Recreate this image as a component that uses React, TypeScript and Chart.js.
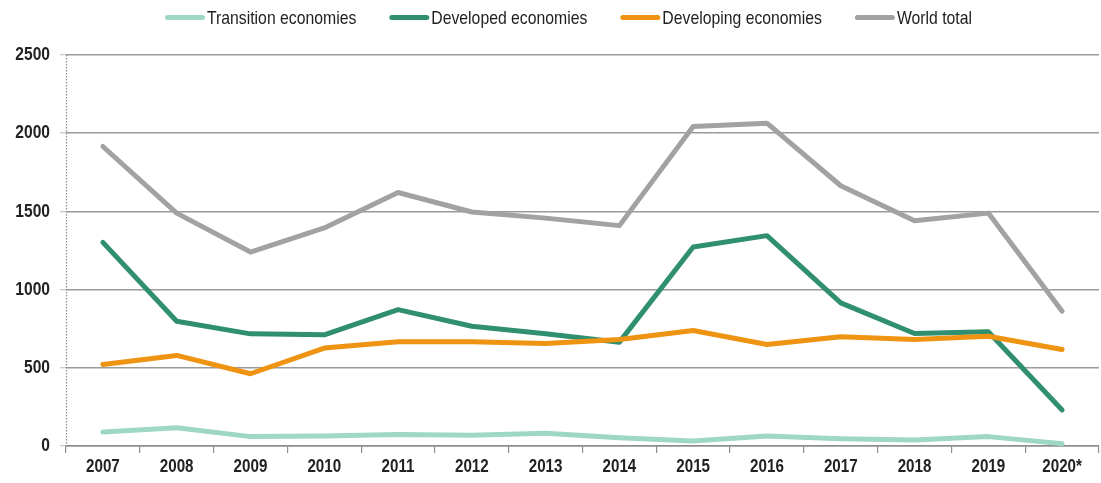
import React, { useEffect, useRef } from "react";
import { Chart, registerables } from "chart.js";

Chart.register(...registerables);

const years = ["2007", "2008", "2009", "2010", "2011", "2012", "2013", "2014", "2015", "2016", "2017", "2018", "2019", "2020*"];
const transition = [89, 117, 60, 64, 74, 68, 81, 53, 32, 64, 47, 38, 60, 15];
const developed = [1302, 798, 717, 711, 872, 766, 717, 664, 1272, 1345, 915, 719, 730, 230];
const developing = [521, 579, 462, 626, 666, 666, 655, 681, 738, 649, 698, 681, 702, 617];
const worldTotal = [1915, 1489, 1240, 1394, 1621, 1496, 1457, 1409, 2043, 2064, 1664, 1440, 1489, 862];
const yTicks = [0, 500, 1000, 1500, 2000, 2500];

const seriesNames = ["Transition economies", "Developed economies", "Developing economies", "World total"];
const seriesColors = ["#9fd7c6", "#2f8f70", "#ef9313", "#a2a2a2"];

const FONT = '"Liberation Sans", Arial, sans-serif';
const NARROW = 0.82;

// Draw axis tick text horizontally condensed (Arial Narrow look)
const condensePlugin = {
  id: "condenseText",
  beforeDraw(chart: any) {
    const ctx = chart.ctx;
    const orig = CanvasRenderingContext2D.prototype.fillText;
    ctx.fillText = function (t: string, x: number, y: number) {
      this.save();
      this.translate(x, y);
      this.scale(NARROW, 1);
      orig.call(this, t, 0, 0);
      this.restore();
    };
  },
  beforeDatasetsDraw(chart: any) {
    delete chart.ctx.fillText;
  },
  afterDraw(chart: any) {
    delete chart.ctx.fillText;
  },
};

const axisLinePlugin = {
  id: "dottedAxis",
  beforeDatasetsDraw(chart: any) {
    const { ctx, chartArea } = chart;
    ctx.save();
    ctx.strokeStyle = "#8a8a8a";
    ctx.lineWidth = 1.2;
    ctx.setLineDash([1.5, 1.5]);
    ctx.beginPath();
    ctx.moveTo(chartArea.left + 0.5, chartArea.top);
    ctx.lineTo(chartArea.left + 0.5, chartArea.bottom);
    ctx.stroke();
    ctx.restore();
  },
};

const legendPlugin = {
  id: "customLegend",
  afterDraw(chart: any) {
    const ctx = chart.ctx;
    ctx.save();
    ctx.font = `19px ${FONT}`;
    ctx.textBaseline = "middle";
    ctx.textAlign = "left";
    const boxW = 40;
    const boxH = 5;
    const gapText = 2;
    const gapItem = 33;
    const y = 17.5;
    let x = 165;
    seriesNames.forEach((name, i) => {
      ctx.fillStyle = seriesColors[i];
      ctx.beginPath();
      ctx.moveTo(x + boxH / 2, y - boxH / 2);
      ctx.lineTo(x + boxW - boxH / 2, y - boxH / 2);
      ctx.arc(x + boxW - boxH / 2, y, boxH / 2, -Math.PI / 2, Math.PI / 2);
      ctx.lineTo(x + boxH / 2, y + boxH / 2);
      ctx.arc(x + boxH / 2, y, boxH / 2, Math.PI / 2, Math.PI * 1.5);
      ctx.closePath();
      ctx.fill();
      ctx.fillStyle = "#1e1e1e";
      const tx = x + boxW + gapText;
      ctx.save();
      ctx.translate(tx, y + 1);
      ctx.scale(0.83, 1);
      ctx.fillText(name, 0, 0);
      ctx.restore();
      x = tx + ctx.measureText(name).width * 0.83 + gapItem;
    });
    ctx.restore();
  },
};

export default function App() {
  const canvasRef = useRef<HTMLCanvasElement | null>(null);

  useEffect(() => {
    if (!canvasRef.current) return;
    const values = [transition, developed, developing, worldTotal];
    const orders = [4, 2, 1, 3];
    const chart = new Chart(canvasRef.current, {
      type: "line",
      data: {
        labels: years,
        datasets: values.map((v, i) => ({
          label: seriesNames[i],
          data: v,
          borderColor: seriesColors[i],
          backgroundColor: seriesColors[i],
          borderWidth: 5,
          borderCapStyle: "round",
          borderJoinStyle: "round",
          pointRadius: 0,
          tension: 0,
          order: orders[i],
        })),
      },
      options: {
        responsive: false,
        animation: false,
        layout: { padding: { top: 55, right: 2, left: 0, bottom: 0 } },
        plugins: {
          legend: { display: false },
          tooltip: { enabled: false },
        },
        scales: {
          x: {
            offset: true,
            grid: {
              offset: true,
              drawOnChartArea: false,
              drawTicks: true,
              tickLength: 7,
              color: "#8c8c8c",
              lineWidth: 1.2,
            },
            border: { display: true, color: "#8c8c8c", width: 1.5 },
            ticks: {
              font: { family: FONT, size: 18.5, weight: "bold" },
              color: "#222222",
              padding: 3,
              maxRotation: 0,
              autoSkip: false,
            },
            afterFit(scale: any) {
              scale.height = 37;
            },
          },
          y: {
            min: 0,
            max: 2500,
            afterBuildTicks(scale: any) {
              scale.ticks = yTicks.map((v) => ({ value: v }));
            },
            grid: {
              color: "#9a9a9a",
              lineWidth: 1.5,
              tickLength: 6,
              tickColor: "#bdbdbd",
              tickWidth: 1,
            },
            border: { display: false },
            ticks: {
              font: { family: FONT, size: 19, weight: "bold" },
              color: "#222222",
              padding: 10,
              callback: (v: any) => String(v),
            },
            afterFit(scale: any) {
              scale.width = 66;
            },
          },
        },
      },
      plugins: [condensePlugin, axisLinePlugin, legendPlugin],
    });
    return () => chart.destroy();
  }, []);

  return (
    <div style={{ position: "absolute", left: 0, top: 0, width: 1101, height: 483, background: "#ffffff" }}>
      <canvas ref={canvasRef} width={1101} height={483} />
    </div>
  );
}
